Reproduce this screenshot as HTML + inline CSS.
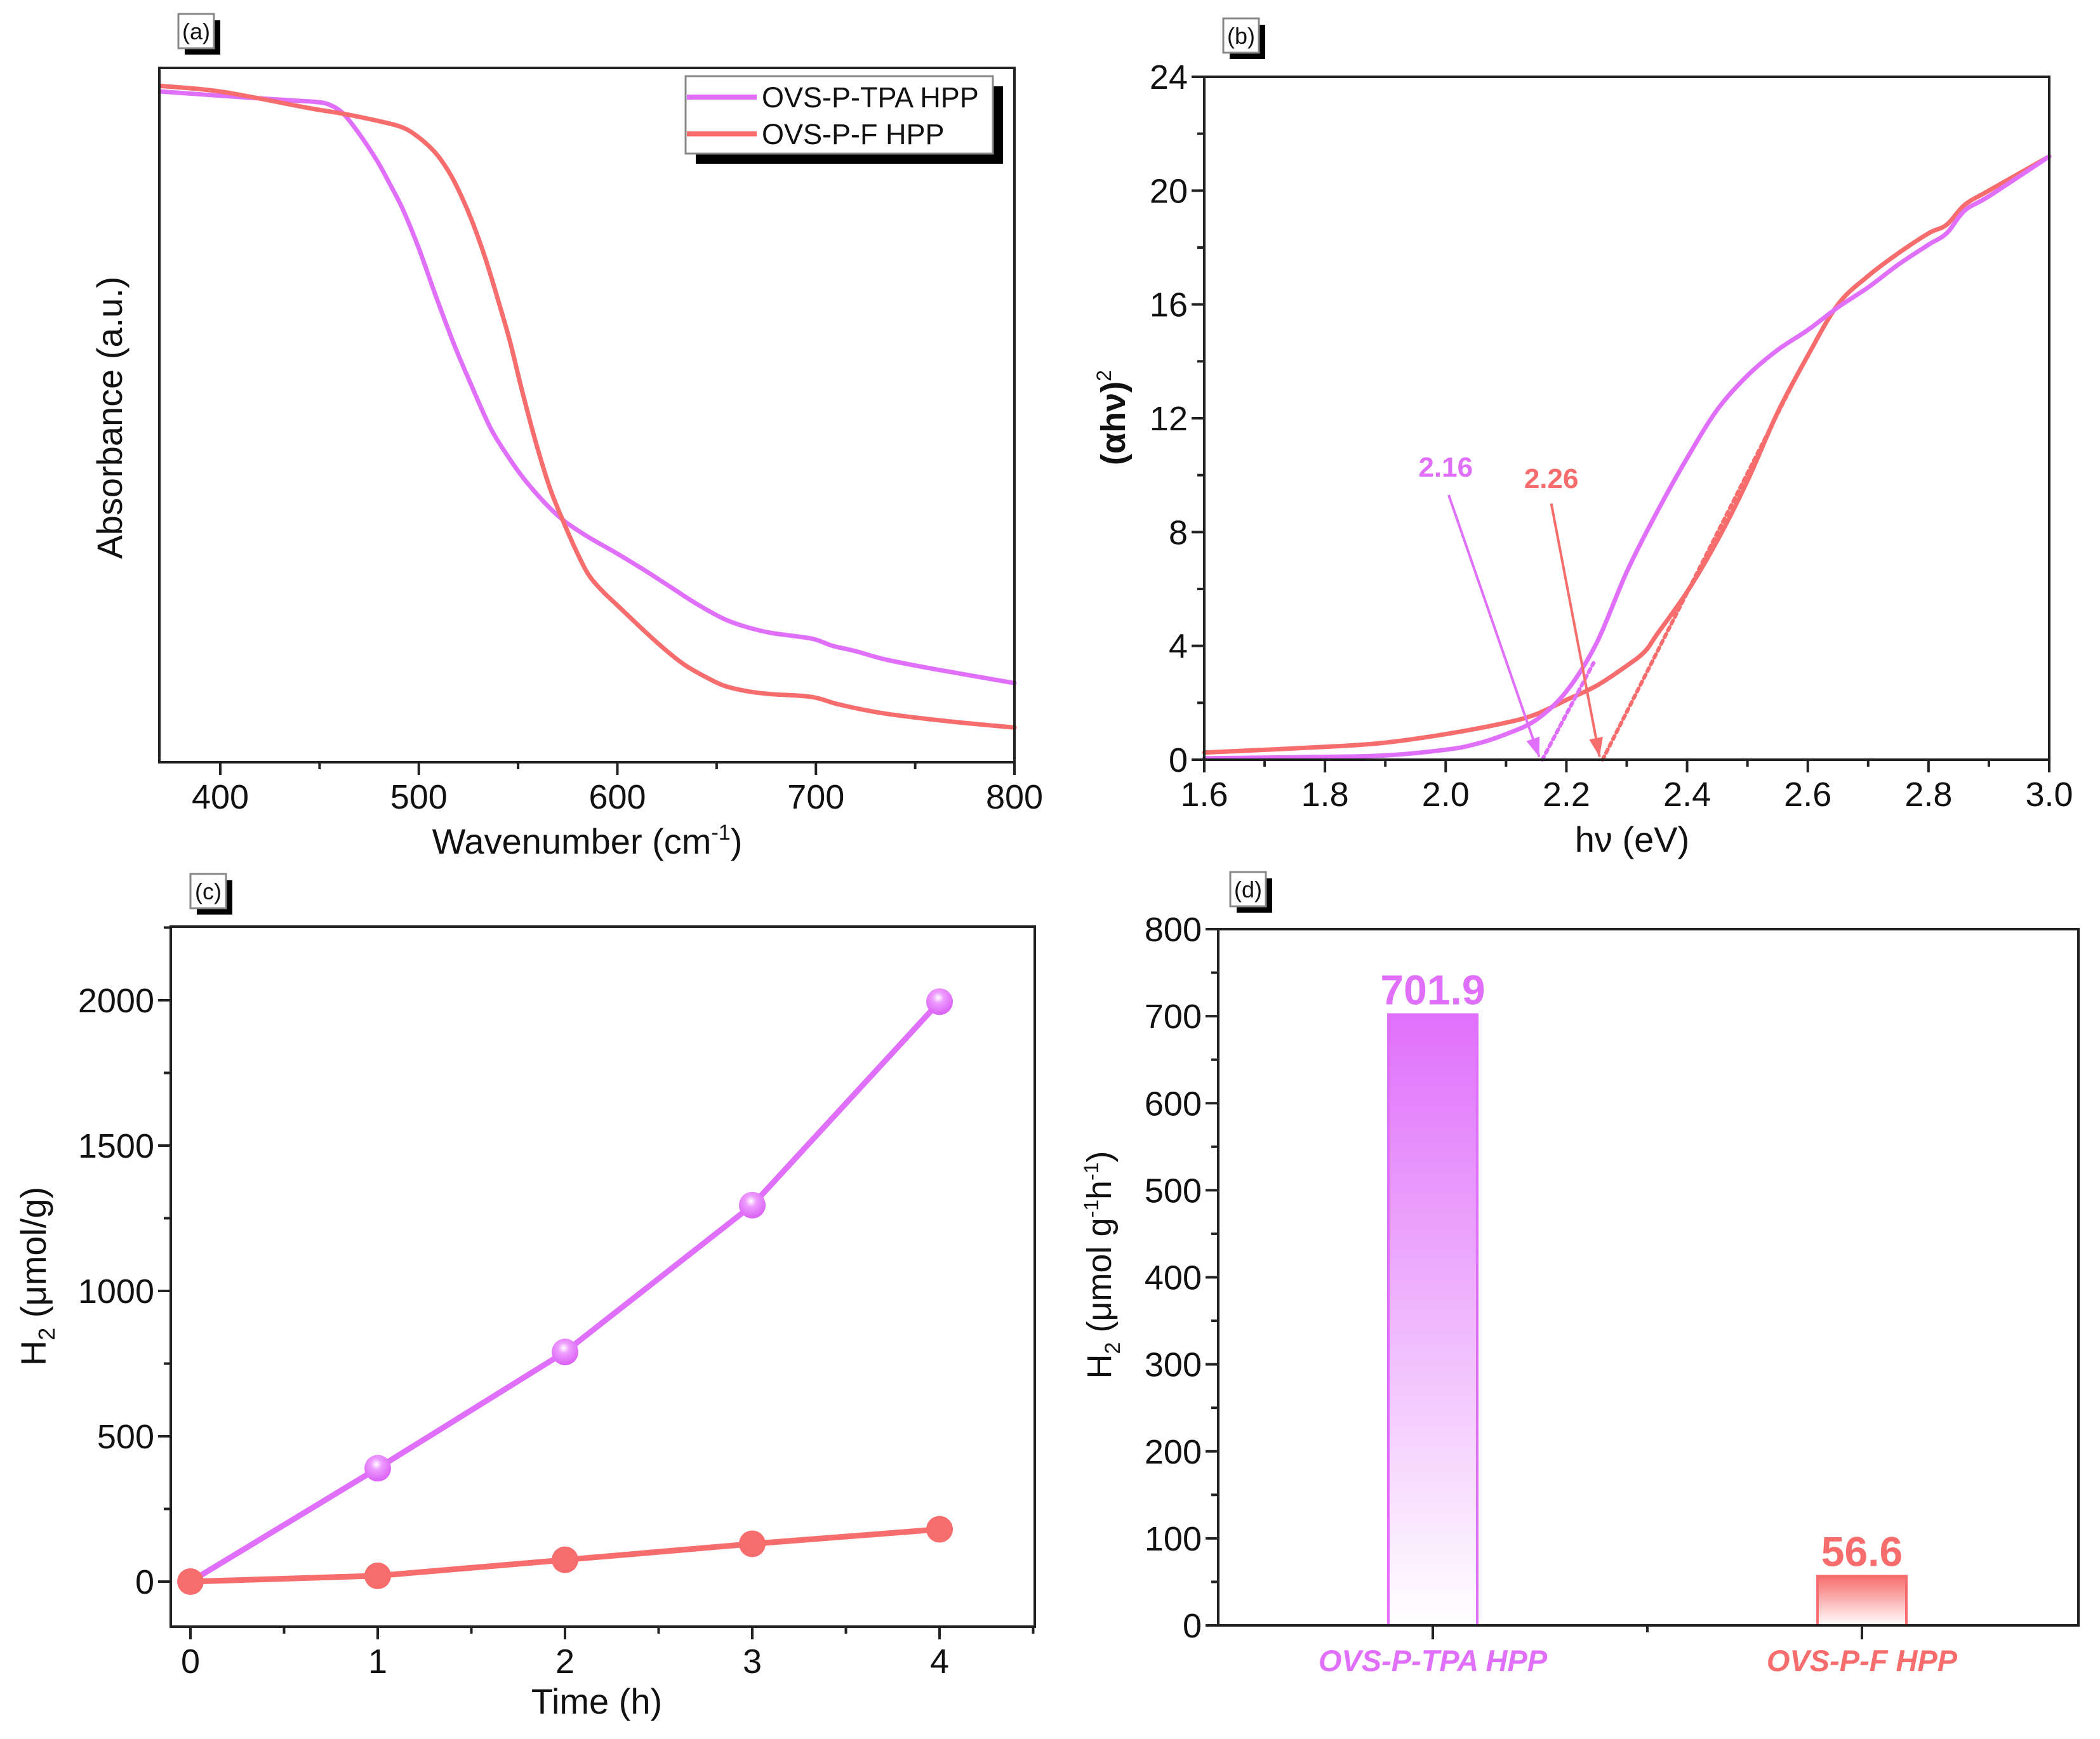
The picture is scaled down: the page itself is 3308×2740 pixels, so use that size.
<!DOCTYPE html>
<html><head><meta charset="utf-8">
<style>
html,body{margin:0;padding:0;background:#fff;}
svg{display:block;font-family:"Liberation Sans",Arial,sans-serif;}
</style></head>
<body>
<svg id="fig" width="3308" height="2740" viewBox="0 0 3308 2740" xmlns="http://www.w3.org/2000/svg">
<defs>
<linearGradient id="gPink" x1="0" y1="0" x2="0" y2="1"><stop offset="0" stop-color="#e070fb"/><stop offset="1" stop-color="#ffffff"/></linearGradient>
<linearGradient id="gRed" x1="0" y1="0" x2="0" y2="1"><stop offset="0" stop-color="#f76c6c"/><stop offset="1" stop-color="#ffffff"/></linearGradient>
<radialGradient id="gSphere" cx="0.45" cy="0.35" r="0.6"><stop offset="0" stop-color="#ffffff"/><stop offset="0.35" stop-color="#ee9cff"/><stop offset="1" stop-color="#dc66f6"/></radialGradient>
</defs>
</svg>
<script>
// ---------- Panel a data ----------
const aTpaX=[370,400,431,448,455,462,470,479,485,492,500,509,518,526,536,545,553,563,573,585,599,614,627,640,654,666,678,698,708,720,735,760,800];
const aTpaY=[0.966,0.960,0.954,0.951,0.947,0.934,0.905,0.866,0.835,0.796,0.740,0.668,0.600,0.546,0.482,0.440,0.408,0.375,0.348,0.325,0.302,0.276,0.252,0.228,0.206,0.194,0.186,0.178,0.168,0.160,0.148,0.134,0.114];
const aFX=[370,400,445,462,482,492,499,507,513,519,526,533,540,546,552,559,566,573,580,586,593,600,614,625,634,645,654,666,678,698,712,735,770,800];
const aFY=[0.974,0.966,0.942,0.934,0.922,0.914,0.902,0.882,0.860,0.830,0.785,0.730,0.665,0.605,0.535,0.460,0.395,0.345,0.300,0.268,0.245,0.226,0.188,0.160,0.140,0.122,0.110,0.102,0.098,0.094,0.083,0.070,0.058,0.050];
const aTicks=[400,500,600,700,800];
// ---------- Panel b data ----------
const bTpaX=[1.6,1.8,1.9,2.0,2.05,2.1,2.15,2.2,2.25,2.3,2.35,2.4,2.45,2.5,2.55,2.6,2.65,2.7,2.75,2.8,2.83,2.86,2.9,3.0];
const bTpaY=[0.05,0.1,0.15,0.35,0.55,0.9,1.4,2.4,4.1,6.6,8.7,10.6,12.3,13.5,14.4,15.1,15.9,16.6,17.4,18.1,18.5,19.3,19.8,21.2];
const bFX=[1.6,1.8,1.9,2.0,2.1,2.15,2.2,2.25,2.3,2.33,2.35,2.4,2.45,2.5,2.55,2.6,2.65,2.7,2.75,2.8,2.83,2.86,2.9,3.0];
const bFY=[0.25,0.45,0.6,0.9,1.3,1.6,2.1,2.6,3.3,3.8,4.4,5.9,7.7,9.8,12.2,14.2,16.0,17.0,17.8,18.5,18.8,19.5,20.0,21.2];
const bGaps=[2.16,2.26];
const bXTicks=[1.6,1.8,2.0,2.2,2.4,2.6,2.8,3.0];
const bYTicks=[0,4,8,12,16,20,24];
// ---------- Panel c data ----------
const cTime=[0,1,2,3,4];
const cTpa=[0,390,790,1295,1995];
const cF=[0,20,75,130,180];
const cYTicks=[0,500,1000,1500,2000];
// ---------- Panel d data ----------
const dCats=["OVS-P-TPA HPP","OVS-P-F HPP"];
const dVals=[701.9,56.6];
const dYTicks=[0,100,200,300,400,500,600,700,800];

const NS="http://www.w3.org/2000/svg";
const svg=document.getElementById('fig');
const PINK="#e070fb", RED="#f76c6c";
function mk(tag,attrs,parent,text){const e=document.createElementNS(NS,tag);for(const k in attrs)e.setAttribute(k,attrs[k]);if(text!==undefined)e.textContent=text;(parent||svg).appendChild(e);return e;}
function grp(name){const g=mk('g',{});return g;}
function lin(d0,d1,r0,r1){return v=>r0+(v-d0)/(d1-d0)*(r1-r0);}
function fmt(v,dec){return dec?v.toFixed(dec):String(v);}

function frame(g,L,T,R,B){
  const f=mk('rect',{x:L,y:T,width:R-L,height:B-T,fill:'none',stroke:'#222','stroke-width':4},g);
  
}
function xTicks(g,ticks,minor,sx,B,dec){
  ticks.forEach(t=>{
    const l=mk('line',{x1:sx(t),x2:sx(t),y1:B,y2:B+20,stroke:'#222','stroke-width':4},g);
    
    const tx=mk('text',{x:sx(t),y:B+73,'font-size':54,'text-anchor':'middle',fill:'#111'},g,fmt(t,dec));
    
  });
  minor.forEach(t=>{
    const l=mk('line',{x1:sx(t),x2:sx(t),y1:B,y2:B+11,stroke:'#222','stroke-width':4},g);
    
  });
}
function yTicks(g,ticks,minor,sy,L){
  ticks.forEach(t=>{
    const l=mk('line',{x1:L-20,x2:L,y1:sy(t),y2:sy(t),stroke:'#222','stroke-width':4},g);
    
    const tx=mk('text',{x:L-26,y:sy(t)+19,'font-size':54,'text-anchor':'end',fill:'#111'},g,String(t));
    
  });
  minor.forEach(t=>{
    const l=mk('line',{x1:L-11,x2:L,y1:sy(t),y2:sy(t),stroke:'#222','stroke-width':4},g);
    
  });
}
function panelLabel(g,x,y,txt){
  const s=mk('rect',{x:x+10,y:y+10,width:56,height:54,fill:'#000'},g);
  
  const b=mk('rect',{x:x,y:y,width:56,height:54,fill:'#fff',stroke:'#888','stroke-width':3},g);
  
  const t=mk('text',{x:x+28,y:y+40,'font-size':36,'text-anchor':'middle',fill:'#111'},g,txt);
  
}
function path(g,xs,ys,sx,sy,color,w,name,dash,smooth){
  const P=xs.map((x,i)=>[sx(x),sy(ys[i])]);
  let d='M'+P[0][0].toFixed(1)+','+P[0][1].toFixed(1);
  for(let i=1;i<P.length;i++){
    if(smooth){
      const p0=P[i-2]||P[i-1],p1=P[i-1],p2=P[i],p3=P[i+1]||P[i];
      const c1=[p1[0]+(p2[0]-p0[0])/6,p1[1]+(p2[1]-p0[1])/6];
      const c2=[p2[0]-(p3[0]-p1[0])/6,p2[1]-(p3[1]-p1[1])/6];
      d+=' C'+c1.map(v=>v.toFixed(1)).join(',')+' '+c2.map(v=>v.toFixed(1)).join(',')+' '+p2[0].toFixed(1)+','+p2[1].toFixed(1);
    } else d+=' L'+P[i][0].toFixed(1)+','+P[i][1].toFixed(1);
  }
  const p=mk('path',{d:d,fill:'none',stroke:color,'stroke-width':w,'stroke-linejoin':'round','stroke-linecap':'round'},g);
  if(dash)p.setAttribute('stroke-dasharray',dash);
  
  return p;
}
function range(a,b,s){const r=[];for(let v=a;v<=b+1e-9;v+=s)r.push(+v.toFixed(6));return r;}

// ================= Panel a =================
(function(){
  const g=grp('panel-a');
  const L=251,T=107,R=1598,B=1201;
  const sx=lin(400,800,347,1598), sy=lin(0,1,B,T);
  panelLabel(g,281,22,'(a)');
  path(g,aTpaX,aTpaY,sx,sy,PINK,7,'series-ovs-p-tpa-hpp',null,true);
  path(g,aFX,aFY,sx,sy,RED,7,'series-ovs-p-f-hpp',null,true);
  frame(g,L,T,R,B);
  xTicks(g,aTicks,[450,550,650,750],sx,B,0);
  const xt=mk('text',{x:925,y:1345,'font-size':56,'text-anchor':'middle',fill:'#111'},g);
  
  xt.innerHTML='Wavenumber (cm<tspan dy="-22" font-size="34">-1</tspan><tspan dy="22">)</tspan>';
  const yt=mk('text',{x:0,y:0,'font-size':56,'text-anchor':'middle',fill:'#111',transform:'translate(192,658) rotate(-90)'},g,'Absorbance (a.u.)');
  
  const lg=grp('legend');g.appendChild(lg);
  const sh=mk('rect',{x:1096,y:136,width:484,height:122,fill:'#000'},lg);
  
  const bx=mk('rect',{x:1080,y:120,width:484,height:122,fill:'#fff',stroke:'#888','stroke-width':3},lg);
  
  [['OVS-P-TPA HPP',PINK,153],['OVS-P-F HPP',RED,211]].forEach(([t,c,y])=>{
    const l=mk('line',{x1:1082,x2:1192,y1:y,y2:y,stroke:c,'stroke-width':8},lg);
    
    const tx=mk('text',{x:1200,y:y+16,'font-size':45,fill:'#111'},lg,t);
    
  });
})();

// ================= Panel b =================
(function(){
  const g=grp('panel-b');
  const L=1897,T=121,R=3228,B=1197;
  const sx=lin(1.6,3.0,L,R), sy=lin(0,24,B,T);
  panelLabel(g,1927,29,'(b)');
  path(g,bFX,bFY,sx,sy,RED,7,'series-ovs-p-f-hpp',null,true);
  path(g,bTpaX,bTpaY,sx,sy,PINK,7,'series-ovs-p-tpa-hpp',null,true);
  path(g,[bGaps[0],2.245],[0,3.4],sx,sy,PINK,6,'tangent-tpa','6 6');
  path(g,[bGaps[1],2.57],[0,13.0],sx,sy,RED,6,'tangent-f','6 6');
  [[bGaps[0],PINK,2.005,9.3,2.0,10.3],[bGaps[1],RED,2.175,9.0,2.175,9.9]].forEach(([gv,c,ax,ay,lx,ly])=>{
    const x1=sx(ax),y1=sy(ay),x2=sx(gv-0.005),y2=sy(0.1);
    const a=mk('line',{x1:x1,y1:y1,x2:x2,y2:y2,stroke:c,'stroke-width':4},g);
    
    const ang=Math.atan2(y2-y1,x2-x1),hl=30,hw=11;
    const bx=x2-hl*Math.cos(ang),by=y2-hl*Math.sin(ang);
    const pts=[x2,y2,bx+hw*Math.sin(ang),by-hw*Math.cos(ang),bx-hw*Math.sin(ang),by+hw*Math.cos(ang)].map(v=>v.toFixed(1)).join(',');
    const h=mk('polygon',{points:pts,fill:c},g);
    
    const t=mk('text',{x:sx(lx),y:sy(ly)+16,'font-size':44,'font-weight':'bold','text-anchor':'middle',fill:c},g,gv.toFixed(2));
    
  });
  frame(g,L,T,R,B);
  xTicks(g,bXTicks,range(1.7,2.9,0.2),sx,B,1);
  yTicks(g,bYTicks,range(2,22,4),sy,L);
  const xt=mk('text',{x:2571,y:1342,'font-size':56,'text-anchor':'middle',fill:'#111'},g,'hν (eV)');
  
  const yt=mk('text',{x:0,y:0,'font-size':54,'font-weight':'bold','text-anchor':'middle',fill:'#111',transform:'translate(1772,658) rotate(-90)'},g);
  
  yt.innerHTML='(αhν)<tspan dy="-22" font-size="32" font-weight="normal">2</tspan>';
})();

// ================= Panel c =================
(function(){
  const g=grp('panel-c');
  const L=269,T=1460,R=1630,B=2563;
  const sx=lin(0,4,300,1480), sy=lin(0,2000,2492,1576);
  panelLabel(g,300,1377,'(c)');
  path(g,cTime,cTpa,sx,sy,PINK,9,'series-ovs-p-tpa-hpp');
  path(g,cTime,cF,sx,sy,RED,9,'series-ovs-p-f-hpp');
  cTime.forEach((t,i)=>{
    const c=mk('circle',{cx:sx(t),cy:sy(cF[i]),r:21,fill:RED},g);
    
  });
  cTime.forEach((t,i)=>{
    if(i===0)return;
    const c=mk('circle',{cx:sx(t),cy:sy(cTpa[i]),r:21,fill:'url(#gSphere)'},g);
    
  });
  frame(g,L,T,R,B);
  xTicks(g,cTime,[0.5,1.5,2.5,3.5,4.5],sx,B,0);
  yTicks(g,cYTicks,[250,750,1250,1750,2250],sy,L);
  const xt=mk('text',{x:940,y:2700,'font-size':56,'text-anchor':'middle',fill:'#111'},g,'Time (h)');
  
  const yt=mk('text',{x:0,y:0,'font-size':56,'text-anchor':'middle',fill:'#111',transform:'translate(72,2011) rotate(-90)'},g);
  
  yt.innerHTML='H<tspan dy="14" font-size="36">2</tspan><tspan dy="-14"> (μmol/g)</tspan>';
})();

// ================= Panel d =================
(function(){
  const g=grp('panel-d');
  const L=1919,T=1464,R=3274,B=2561;
  const sy=lin(0,800,B,T);
  const cx=[2257,2933], bw=140;
  panelLabel(g,1938,1374,'(d)');
  const fills=['url(#gPink)','url(#gRed)'], cols=[PINK,RED];
  dCats.forEach((c,i)=>{
    const r=mk('rect',{x:cx[i]-bw/2,y:sy(dVals[i]),width:bw,height:B-sy(dVals[i]),fill:fills[i],stroke:cols[i],'stroke-width':4},g);
    
    const v=mk('text',{x:cx[i],y:sy(dVals[i])-16,'font-size':66,'font-weight':'bold','text-anchor':'middle',fill:cols[i]},g,dVals[i].toFixed(1));
    
    const t=mk('text',{x:cx[i],y:2633,'font-size':47,'font-weight':'bold','font-style':'italic','text-anchor':'middle',fill:cols[i]},g,c);
    
    const tk=mk('line',{x1:cx[i],x2:cx[i],y1:B,y2:B+22,stroke:'#222','stroke-width':4},g);
    
  });
  const mt=mk('line',{x1:(cx[0]+cx[1])/2,x2:(cx[0]+cx[1])/2,y1:B,y2:B+11,stroke:'#222','stroke-width':4},g);
  
  frame(g,L,T,R,B);
  yTicks(g,dYTicks,range(50,750,100),sy,L);
  const yt=mk('text',{x:0,y:0,'font-size':54,'text-anchor':'middle',fill:'#111',transform:'translate(1750,1993) rotate(-90)'},g);
  
  yt.innerHTML='H<tspan dy="14" font-size="34">2</tspan><tspan dy="-14"> (μmol g</tspan><tspan dy="-20" font-size="32">-1</tspan><tspan dy="20">h</tspan><tspan dy="-20" font-size="32">-1</tspan><tspan dy="20">)</tspan>';
})();
</script>
</body></html>
